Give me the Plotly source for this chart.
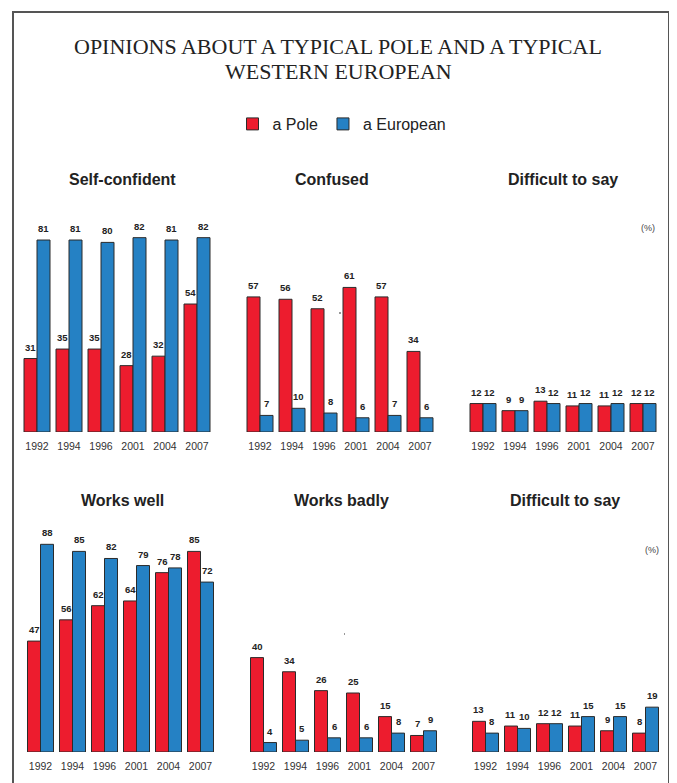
import plotly.graph_objects as go

years = ["1992", "1994", "1996", "2001", "2004", "2007"]
panel_titles = ["Self-confident", "Confused", "Difficult to say",
                "Works well", "Works badly", "Difficult to say"]
pole = [
    [31, 35, 35, 28, 32, 54],
    [57, 56, 52, 61, 57, 34],
    [12, 9, 13, 11, 11, 12],
    [47, 56, 62, 64, 76, 85],
    [40, 34, 26, 25, 15, 7],
    [13, 11, 12, 11, 9, 8],
]
european = [
    [81, 81, 80, 82, 81, 82],
    [7, 10, 8, 6, 7, 6],
    [12, 9, 12, 12, 12, 12],
    [88, 85, 82, 79, 78, 72],
    [4, 5, 6, 6, 8, 9],
    [8, 10, 12, 15, 15, 19],
]
series_names = ["a Pole", "a European"]
title_lines = ["OPINIONS ABOUT A TYPICAL POLE AND A TYPICAL", "WESTERN EUROPEAN"]

RED = "#ED1C2E"
BLUE = "#2581C4"
OUTLINE = "#2b2b2b"
# the page body has an 8px margin; figure sized to fill the rest of the window
OFF = 8
W, H = 677 - OFF, 783 - OFF

def px_x(v):
    return (v - OFF) / W

def px_y(v):
    return 1 - (v - OFF) / H

# panel x-domain starts (page px), 192 px wide each
x_starts = [21, 244, 467, 24.5, 247.5, 469.5]
# baseline / top (page px) per row
rows = [(432, 195), (752, 516)]
title_pos = [(123, 179), (332, 179), (563, 179), (122, 500), (341, 500), (565, 500)]

fig = go.Figure()
layout = dict()
annotations = []

for i in range(6):
    ax = "" if i == 0 else str(i + 1)
    xa, ya = "x" + ax, "y" + ax
    r = 0 if i < 3 else 1
    base, top = rows[r]
    fig.add_trace(go.Bar(
        x=years, y=pole[i], name=series_names[0], marker_color=RED,
        marker_line=dict(color=OUTLINE, width=1), xaxis=xa, yaxis=ya,
        showlegend=(i == 0), legendgroup="p", hoverinfo="y"))
    fig.add_trace(go.Bar(
        x=years, y=european[i], name=series_names[1], marker_color=BLUE,
        marker_line=dict(color=OUTLINE, width=1), xaxis=xa, yaxis=ya,
        showlegend=(i == 0), legendgroup="e", hoverinfo="y"))
    layout["xaxis" + ax] = dict(
        domain=[px_x(x_starts[i]), px_x(x_starts[i] + 192)],
        anchor=ya, type="category", range=[-0.5, len(years) - 0.5],
        showgrid=False, zeroline=False,
        showline=False, ticks="", ticklabelstandoff=6,
        tickfont=dict(family="Liberation Sans, Arial", size=10.5, color="#333"),
        fixedrange=True)
    layout["yaxis" + ax] = dict(
        domain=[px_y(base), px_y(top)], anchor=xa, range=[0, 100],
        visible=False, fixedrange=True)
    for vals, shift in ((pole[i], -6.5), (european[i], 6.5)):
        for j, v in enumerate(vals):
            annotations.append(dict(
                x=j, y=v, xref=xa, yref=ya, text="<b>%d</b>" % v,
                showarrow=False, yanchor="bottom", xanchor="center",
                xshift=shift, yshift=4,
                font=dict(family="Liberation Sans, Arial", size=9.5, color="#222")))
    tx, ty = title_pos[i]
    annotations.append(dict(
        x=px_x(tx), y=px_y(ty), xref="paper", yref="paper",
        text="<b>%s</b>" % panel_titles[i], showarrow=False,
        xanchor="center", yanchor="middle",
        font=dict(family="Liberation Sans, Arial", size=16, color="#222")))

for (px, py) in ((648, 228), (652, 550)):
    annotations.append(dict(
        x=px_x(px), y=px_y(py), xref="paper", yref="paper", text="(%)",
        showarrow=False, xanchor="center", yanchor="middle",
        font=dict(family="Liberation Sans, Arial", size=9, color="#444")))

for line, ly in zip(title_lines, (47, 71)):
    annotations.append(dict(
        x=px_x(338), y=px_y(ly), xref="paper", yref="paper",
        text=line, showarrow=False, xanchor="center", yanchor="middle",
        font=dict(family="Liberation Serif, Times New Roman, serif", size=22, color="#222")))

# tiny stray marks present in the source
shapes = [dict(type="rect", xref="paper", yref="paper",
               x0=px_x(13), x1=px_x(669), y0=-0.05, y1=px_y(12),
               line=dict(color="#555", width=2))]
for (sx, sy, w) in ((339, 313, 2), (344, 634, 1)):
    shapes.append(dict(type="line", xref="paper", yref="paper",
                       x0=px_x(sx), x1=px_x(sx + w), y0=px_y(sy), y1=px_y(sy),
                       line=dict(color="#333", width=1.2)))

fig.update_layout(
    width=W, height=H,
    margin=dict(l=0, r=0, t=0, b=0),
    paper_bgcolor="white", plot_bgcolor="white",
    barmode="group", bargap=0.1875, bargroupgap=0,
    annotations=annotations,
    legend=dict(orientation="h", x=px_x(342), xanchor="center", y=px_y(124),
                yanchor="middle", font=dict(family="Liberation Sans, Arial", size=16, color="#222"),
                itemwidth=30, tracegroupgap=0, bgcolor="rgba(0,0,0,0)"),
    shapes=shapes,
    **layout)

fig.write_html("out.html")
